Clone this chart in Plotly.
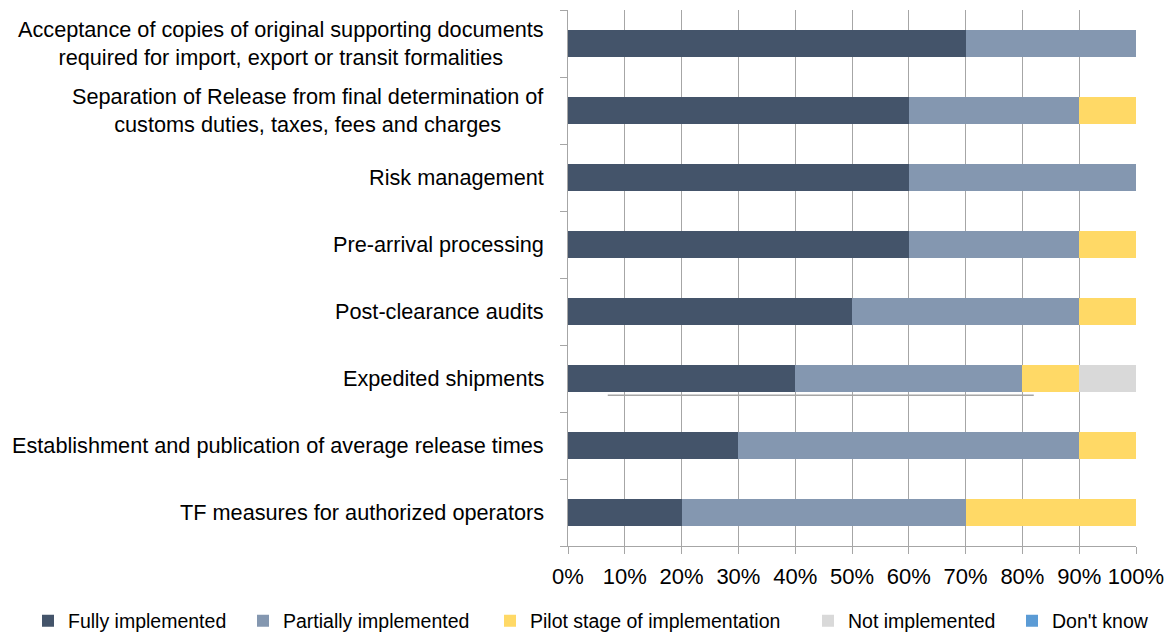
import plotly.graph_objects as go

categories = [
    "Acceptance of copies of original supporting documents<br>required for import, export or transit formalities",
    "Separation of Release from final determination of<br>customs duties, taxes, fees and charges",
    "Risk management",
    "Pre-arrival processing",
    "Post-clearance audits",
    "Expedited shipments",
    "Establishment and publication of average release times",
    "TF measures for authorized operators",
]
fully = [0.70, 0.60, 0.60, 0.60, 0.50, 0.40, 0.30, 0.20]
partially = [0.30, 0.30, 0.40, 0.30, 0.40, 0.40, 0.60, 0.50]
pilot = [0.00, 0.10, 0.00, 0.10, 0.10, 0.10, 0.10, 0.30]
not_impl = [0.00, 0.00, 0.00, 0.00, 0.00, 0.10, 0.00, 0.00]
dont_know = [0.00, 0.00, 0.00, 0.00, 0.00, 0.00, 0.00, 0.00]

series_names = ["Fully implemented", "Partially implemented", "Pilot stage of implementation",
                "Not implemented", "Don't know"]
series_values = [fully, partially, pilot, not_impl, dont_know]
series_colors = ["#44546A", "#8497B0", "#FFD966", "#D9D9D9", "#5B9BD5"]

# page has an 8px body margin; figure layout compensates
W, H = 1172, 633
ML, MR, MT, MB = 560, 44, 2, 95
PW = W - ML - MR
PH = H - MT - MB

ids = list(range(len(categories)))
legend_ids = ["legend", "legend2", "legend3", "legend4", "legend5"]
legend_marker_screen_x = [48, 263, 510, 828, 1032]

fig = go.Figure()
for name, vals, color, lg in zip(series_names, series_values, series_colors, legend_ids):
    fig.add_trace(go.Bar(
        y=ids, x=vals, name=name, orientation="h",
        marker=dict(color=color, line=dict(width=0)),
        width=0.4, legend=lg,
    ))

FONT = "Liberation Sans, Arial, sans-serif"
for i, c in enumerate(categories):
    fig.add_annotation(
        x=0, xref="x", y=i, yref="y", text=c, showarrow=False,
        xanchor="right", yanchor="middle", align="center", xshift=-22,
        font=dict(family=FONT, size=21.7, color="#000000"),
    )

# stray line artifact under the Expedited shipments bar
fig.add_shape(type="line", xref="x", yref="y", x0=0.07, x1=0.82, y0=5.25, y1=5.25,
              line=dict(color="#A6A6A6", width=1.5))

legend_center_fig_y = 621 - 8
legend_y = (H - MB - legend_center_fig_y) / PH
legends = {}
for lg, sx in zip(legend_ids, legend_marker_screen_x):
    left_fig = sx - 8 - 20
    legends[lg] = dict(
        x=(left_fig - ML) / PW, xanchor="left", y=legend_y, yanchor="middle",
        orientation="h", font=dict(family=FONT, size=19.5, color="#000000"),
        bgcolor="rgba(0,0,0,0)", borderwidth=0, itemwidth=30,
    )

fig.update_layout(
    barmode="stack",
    width=W, height=H,
    margin=dict(l=ML, r=MR, t=MT, b=MB, autoexpand=False),
    paper_bgcolor="white", plot_bgcolor="white",
    font=dict(family=FONT, size=22, color="#000000"),
    showlegend=True,
    **legends,
)
fig.update_xaxes(
    range=[0, 1], tickformat=".0%", dtick=0.1, tick0=0,
    showgrid=True, gridcolor="#A6A6A6", gridwidth=1,
    showline=True, linecolor="#A6A6A6", linewidth=1,
    ticks="outside", ticklen=7, tickcolor="#A6A6A6",
    tickfont=dict(family=FONT, size=22, color="#000000"),
    ticklabelstandoff=4,
    zeroline=False, fixedrange=True,
)
fig.update_yaxes(
    range=[7.5, -0.5], tickmode="array", tickvals=[i - 0.5 for i in ids] + [7.5],
    ticktext=[""] * 9,
    showgrid=False, showline=True, linecolor="#A6A6A6", linewidth=1,
    ticks="outside", ticklen=7, tickcolor="#A6A6A6",
    zeroline=False, fixedrange=True,
)

fig.write_html("out.html")
